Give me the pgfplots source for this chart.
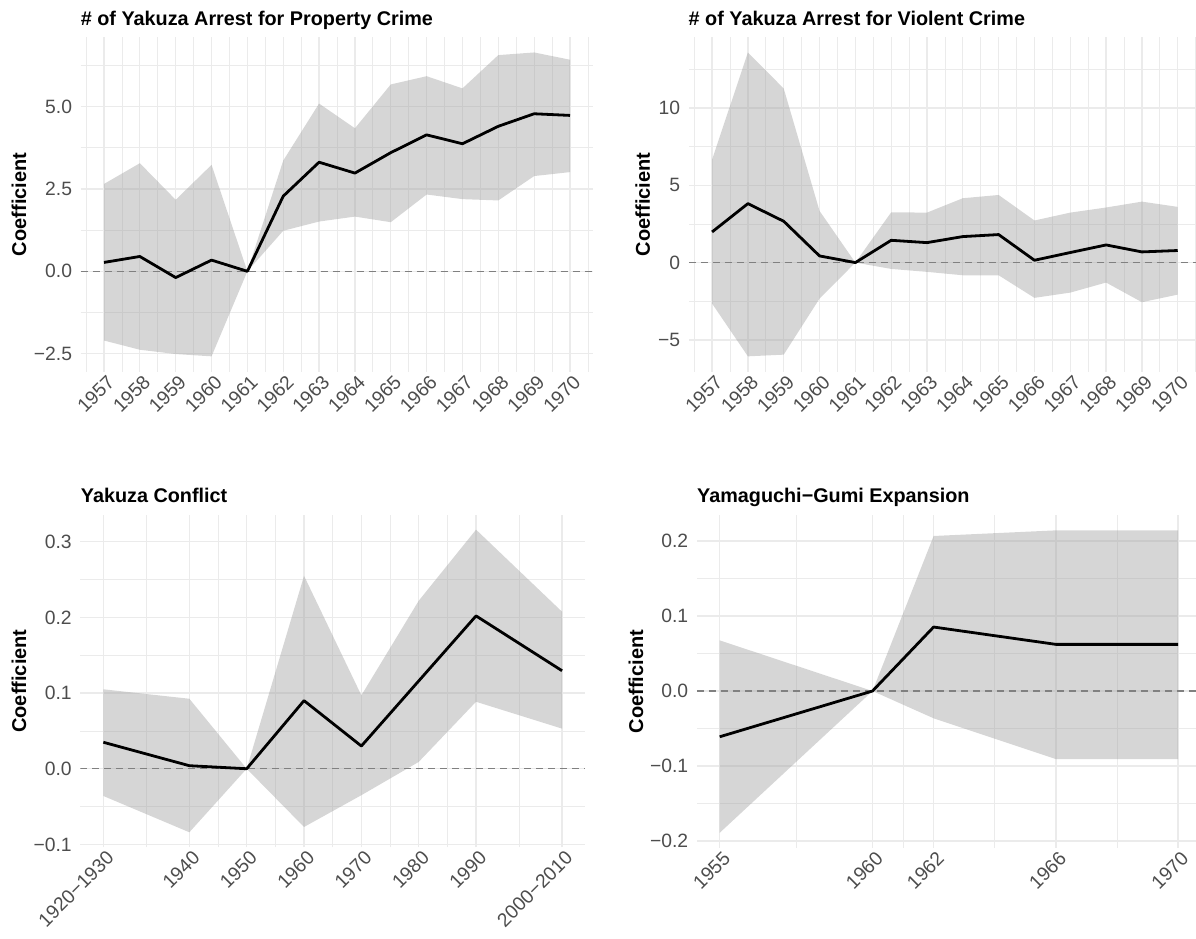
\documentclass[border=0pt]{standalone}
\usepackage{pgfplots}
\pgfplotsset{compat=1.18}
\usepgfplotslibrary{fillbetween}
\usepackage{pgfplotstable}
\usepackage{fontspec}
\setmainfont{Liberation Sans}

\definecolor{gridgray}{HTML}{EBEBEB}
\definecolor{ticktext}{HTML}{4D4D4D}
\definecolor{zeroline}{HTML}{808080}
\definecolor{bandgray}{HTML}{999999}

% tick label text, set at a fixed size whatever mode the label is in
\newcommand{\tl}[1]{\mbox{\fontsize{19.3}{22}\selectfont\color{ticktext}#1}}

% year  estimate  lower  upper
\pgfplotstableread{
x     est     lo      hi
1957  0.27   -2.10    2.65
1958  0.45   -2.38    3.28
1959 -0.19   -2.51    2.17
1960  0.34   -2.58    3.23
1961  0.00    0.00    0.00
1962  2.28    1.23    3.36
1963  3.31    1.51    5.09
1964  2.98    1.66    4.34
1965  3.60    1.49    5.67
1966  4.14    2.33    5.92
1967  3.87    2.19    5.55
1968  4.40    2.15    6.56
1969  4.78    2.89    6.64
1970  4.73    3.01    6.42
}\propertytab

\pgfplotstableread{
x     est     lo      hi
1957  1.98   -2.65    6.66
1958  3.81   -6.06   13.58
1959  2.67   -5.95   11.25
1960  0.43   -2.33    3.34
1961  0.00    0.00    0.00
1962  1.44   -0.41    3.25
1963  1.29   -0.60    3.23
1964  1.68   -0.82    4.16
1965  1.81   -0.82    4.37
1966  0.15   -2.28    2.72
1967  0.65   -1.94    3.23
1968  1.14   -1.29    3.56
1969  0.69   -2.56    3.94
1970  0.78   -2.07    3.60
}\violenttab

\pgfplotstableread{
x     est      lo       hi
1925  0.035   -0.036    0.105
1940  0.004   -0.084    0.0925
1950  0.000    0.000    0.000
1960  0.090   -0.077    0.255
1970  0.030   -0.035    0.097
1980  0.116    0.009    0.222
1990  0.202    0.0885   0.316
2005  0.1295   0.053    0.2075
}\conflicttab

\pgfplotstableread{
x     est      lo       hi
1955 -0.061   -0.189    0.0675
1960  0.000    0.000    0.000
1962  0.0853  -0.0364   0.2067
1966  0.0622  -0.0907   0.2142
1970  0.0622  -0.0907   0.2142
}\expansiontab

\pgfplotsset{
  panel/.style={
    scale only axis,
    axis line style={draw=none},
    major tick length=0pt,
    minor tick length=0pt,
    tick style={draw=none},
    grid=both,
    major grid style={draw=gridgray, line width=1.3pt},
    minor grid style={draw=gridgray, line width=0.8pt},
    tick label style={font=\fontsize{19.3}{22}\selectfont, text=ticktext},
    yticklabel style={anchor=east, inner sep=0pt, xshift=-8.5pt},
    xticklabel style={rotate=45, anchor=north east, inner sep=0pt, yshift=-3pt},
  },
  band/.style={fill=bandgray, draw=none, fill opacity=0.4},
  estline/.style={black, line width=2.8pt, line join=round},
  zero/.style={zeroline, line width=1.1pt, dash pattern=on 7pt off 5pt},
}

\newcommand{\titlefont}{\bfseries\fontsize{19.8}{22}\selectfont}
\newcommand{\labfont}{\bfseries\fontsize{20}{23}\selectfont}

\begin{document}
\begin{tikzpicture}

% ---- property crime arrests
\begin{axis}[panel, at={(80.7pt,-371.5pt)}, anchor=south west,
  width=512.6pt, height=334.2pt,
  xmin=1956.35, xmax=1970.65, ymin=-3.04, ymax=7.10,
  xtick={1957,1958,1959,1960,1961,1962,1963,1964,1965,1966,1967,1968,1969,1970},
  xticklabels={\tl{1957},\tl{1958},\tl{1959},\tl{1960},\tl{1961},\tl{1962},\tl{1963},\tl{1964},\tl{1965},\tl{1966},\tl{1967},\tl{1968},\tl{1969},\tl{1970}},
  minor xtick={1956.5,1957.5,1958.5,1959.5,1960.5,1961.5,1962.5,1963.5,1964.5,1965.5,1966.5,1967.5,1968.5,1969.5,1970.5},
  ytick={-2.5,0,2.5,5}, yticklabels={\tl{−2.5},\tl{0.0},\tl{2.5},\tl{5.0}},
  minor ytick={-1.25,1.25,3.75,6.25}]
  \addplot[name path=hi, draw=none] table[x=x, y=hi] {\propertytab};
  \addplot[name path=lo, draw=none] table[x=x, y=lo] {\propertytab};
  \addplot[band] fill between[of=hi and lo];
  \addplot[zero] coordinates {(1956.35,0) (1970.65,0)};
  \addplot[estline] table[x=x, y=est] {\propertytab};
\end{axis}

% ---- violent crime arrests
\begin{axis}[panel, at={(688.8pt,-371.5pt)}, anchor=south west,
  width=512.2pt, height=334.2pt,
  xmin=1956.35, xmax=1970.65, ymin=-7.04, ymax=14.56,
  xtick={1957,1958,1959,1960,1961,1962,1963,1964,1965,1966,1967,1968,1969,1970},
  xticklabels={\tl{1957},\tl{1958},\tl{1959},\tl{1960},\tl{1961},\tl{1962},\tl{1963},\tl{1964},\tl{1965},\tl{1966},\tl{1967},\tl{1968},\tl{1969},\tl{1970}},
  minor xtick={1956.5,1957.5,1958.5,1959.5,1960.5,1961.5,1962.5,1963.5,1964.5,1965.5,1966.5,1967.5,1968.5,1969.5,1970.5},
  ytick={-5,0,5,10}, yticklabels={\tl{−5},\tl{0},\tl{5},\tl{10}},
  minor ytick={-2.5,2.5,7.5,12.5}]
  \addplot[name path=hi, draw=none] table[x=x, y=hi] {\violenttab};
  \addplot[name path=lo, draw=none] table[x=x, y=lo] {\violenttab};
  \addplot[band] fill between[of=hi and lo];
  \addplot[zero] coordinates {(1956.35,0) (1970.65,0)};
  \addplot[estline] table[x=x, y=est] {\violenttab};
\end{axis}

% ---- conflict
\begin{axis}[panel, at={(80.4pt,-847.4pt)}, anchor=south west,
  width=504.6pt, height=332.9pt,
  xmin=1921, xmax=2009, ymin=-0.104, ymax=0.336,
  xtick={1925,1940,1950,1960,1970,1980,1990,2005},
  xticklabels={\tl{1920−1930},\tl{1940},\tl{1950},\tl{1960},\tl{1970},\tl{1980},\tl{1990},\tl{2000−2010}},
  minor xtick={1932.5,1945,1955,1965,1975,1985,1997.5},
  ytick={-0.1,0,0.1,0.2,0.3}, yticklabels={\tl{−0.1},\tl{0.0},\tl{0.1},\tl{0.2},\tl{0.3}},
  minor ytick={-0.05,0.05,0.15,0.25}]
  \addplot[name path=hi, draw=none] table[x=x, y=hi] {\conflicttab};
  \addplot[name path=lo, draw=none] table[x=x, y=lo] {\conflicttab};
  \addplot[band] fill between[of=hi and lo];
  \addplot[zero] coordinates {(1921,0) (2009,0)};
  \addplot[estline] table[x=x, y=est] {\conflicttab};
\end{axis}

% ---- Yamaguchi-Gumi expansion
\begin{axis}[panel, at={(696.8pt,-847.9pt)}, anchor=south west,
  width=504.2pt, height=332.7pt,
  xmin=1954.25, xmax=1970.75, ymin=-0.2092, ymax=0.2344,
  xtick={1955,1960,1962,1966,1970},
  xticklabels={\tl{1955},\tl{1960},\tl{1962},\tl{1966},\tl{1970}},
  minor xtick={1957.5,1961,1964,1968},
  ytick={-0.2,-0.1,0,0.1,0.2}, yticklabels={\tl{−0.2},\tl{−0.1},\tl{0.0},\tl{0.1},\tl{0.2}},
  minor ytick={-0.15,-0.05,0.05,0.15}]
  \addplot[name path=hi, draw=none] table[x=x, y=hi] {\expansiontab};
  \addplot[name path=lo, draw=none] table[x=x, y=lo] {\expansiontab};
  \addplot[band] fill between[of=hi and lo];
  \addplot[zero] coordinates {(1954.25,0) (1970.75,0)};
  \addplot[estline] table[x=x, y=est] {\expansiontab};
\end{axis}

% panel titles and axis titles
\node[anchor=base west, font=\titlefont, inner sep=0pt] at (80.7pt,-25pt) {\# of Yakuza Arrest for Property Crime};
\node[anchor=base west, font=\titlefont, inner sep=0pt] at (688.5pt,-25pt) {\# of Yakuza Arrest for Violent Crime};
\node[anchor=base west, font=\titlefont, inner sep=0pt] at (80.7pt,-502pt) {Yakuza Conflict};
\node[anchor=base west, font=\titlefont, inner sep=0pt] at (697pt,-502pt) {Yamaguchi−Gumi Expansion};

\node[rotate=90, font=\labfont] at (19pt,-204.4pt) {Coefficient};
\node[rotate=90, font=\labfont] at (642.6pt,-204.4pt) {Coefficient};
\node[rotate=90, font=\labfont] at (19pt,-681pt) {Coefficient};
\node[rotate=90, font=\labfont] at (636pt,-681.5pt) {Coefficient};

% page frame
\pgfresetboundingbox
\path (0pt,0pt) rectangle (1196pt,-938pt);
\end{tikzpicture}
\end{document}
